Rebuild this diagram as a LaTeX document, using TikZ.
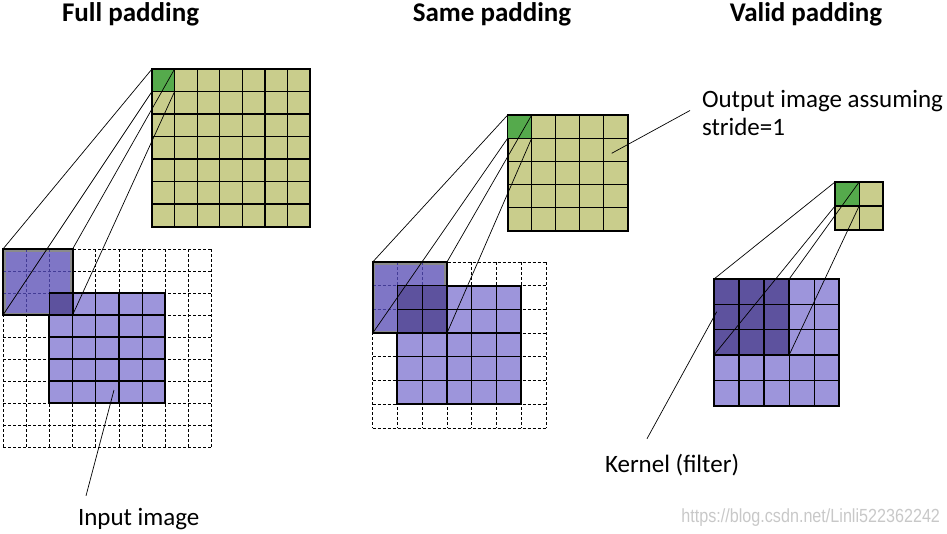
\documentclass[tikz,border=0pt]{standalone}
\usepackage{fontspec}
\setmainfont{Carlito}
\newfontfamily\markfont{Liberation Sans}
\usetikzlibrary{positioning}

\definecolor{outcell}{HTML}{C9CD8C}
\definecolor{outfirst}{HTML}{55AA4C}
\definecolor{incell}{HTML}{9D95DB}
\definecolor{kerncell}{HTML}{7F76C6}
\definecolor{kerndark}{HTML}{5D529E}
\definecolor{kerngray}{HTML}{8A8A8A}
\definecolor{kernline}{HTML}{433C96}
\definecolor{marktext}{HTML}{C8C8C8}

% lines of a grid: style, x0, y0, nx, ny, cell width, cell height
\newcommand{\cellgrid}[7]{%
  \foreach \i in {0,...,#4}
    \draw[#1] ({#2+\i*#6},#3) -- ++(0,{#5*#7});
  \foreach \j in {0,...,#5}
    \draw[#1] (#2,{#3+\j*#7}) -- ++({#4*#6},0);
}

\begin{document}
\begin{tikzpicture}[x=1pt,y=-1pt]
    \tikzstyle{every node}=[inner sep=0pt,outer sep=0pt]
    \tikzstyle{padline}=[black,line width=0.7pt,dash pattern=on 3pt off 2pt]
    \tikzstyle{kerndash}=[kernline,line width=0.7pt,dash pattern=on 3pt off 2pt]
    \tikzstyle{cellline}=[black,line width=1.3pt]
    \tikzstyle{inimg}=[rectangle,fill=incell,draw=black,line width=2pt,anchor=north west]
    \tikzstyle{outimg}=[rectangle,fill=outcell,draw=black,line width=2pt,anchor=north west]
    \tikzstyle{firstcell}=[rectangle,fill=outfirst,anchor=north west]
    \tikzstyle{kernbox}=[rectangle,fill=kerngray,anchor=north west]
    \tikzstyle{kernframe}=[black,line width=2.2pt]
    \tikzstyle{proj}=[black,line width=0.7pt]
    \tikzstyle{title}=[font=\bfseries\fontsize{27}{32}\selectfont,anchor=base]
    \tikzstyle{note}=[font=\fontsize{25}{28}\selectfont,align=left,anchor=base west]
    \tikzstyle{wmark}=[font=\markfont\fontsize{19}{22}\selectfont,text=marktext,anchor=base east]

    \useasboundingbox (0,0) rectangle (947,533);

    % full padding
    \node[title] (tA) at (130.5,21.5) {Full padding};
    \cellgrid{padline}{3}{249}{9}{9}{23.2}{22}
    \node[inimg,minimum width=116pt,minimum height=110pt] (inA) at (49.4,293) {};
    \cellgrid{cellline}{49.4}{293}{5}{5}{23.2}{22}
    \node[kernbox,minimum width=69.6pt,minimum height=66pt] (kA) at (3,249) {};
    \fill[kerncell] ([shift={(2.5,2.5)}]kA.north west) rectangle ([shift={(-2.5,-2.5)}]kA.south east);
    \cellgrid{kerndash}{3}{249}{3}{3}{23.2}{22}
    \fill[kerndark] (inA.north west) rectangle (kA.south east);
    \cellgrid{cellline}{49.4}{293}{1}{1}{23.2}{22}
    \draw[kernframe] (kA.north west) rectangle (kA.south east);
    \node[outimg,minimum width=158.2pt,minimum height=157.5pt] (oA) at (152,69) {};
    \node[firstcell,minimum width=22.6pt,minimum height=22.5pt] (fA) at (152,69) {};
    \cellgrid{cellline}{152}{69}{7}{7}{22.6}{22.5}
    \draw[proj] (kA.north west) -- (fA.north west)
                (kA.north east) -- (fA.north east)
                (kA.south west) -- (fA.south west)
                (kA.south east) -- (fA.south east);
    \node[note] (lA) at (78,525) {Input image};
    \coordinate (pA) at (114,390);
    \draw[proj] (pA) -- ([xshift=8pt,yshift=12pt]lA.north west);

    % same padding
    \node[title] (tB) at (492,21.5) {Same padding};
    \cellgrid{padline}{372.7}{262}{7}{7}{24.76}{23.7}
    \node[inimg,minimum width=123.8pt,minimum height=118.5pt] (inB) at (397.46,285.7) {};
    \cellgrid{cellline}{397.46}{285.7}{5}{5}{24.76}{23.7}
    \node[kernbox,minimum width=74.28pt,minimum height=71.1pt] (kB) at (372.7,262) {};
    \fill[kerncell] ([shift={(2.5,2.5)}]kB.north west) rectangle ([shift={(-2.5,-2.5)}]kB.south east);
    \cellgrid{kerndash}{372.7}{262}{3}{3}{24.76}{23.7}
    \fill[kerndark] (inB.north west) rectangle (kB.south east);
    \cellgrid{cellline}{397.46}{285.7}{2}{2}{24.76}{23.7}
    \draw[kernframe] (kB.north west) rectangle (kB.south east);
    \node[outimg,minimum width=120pt,minimum height=116pt] (oB) at (507.7,115) {};
    \node[firstcell,minimum width=24pt,minimum height=23.2pt] (fB) at (507.7,115) {};
    \cellgrid{cellline}{507.7}{115}{5}{5}{24}{23.2}
    \draw[proj] (kB.north west) -- (fB.north west)
                (kB.north east) -- (fB.north east)
                (kB.south west) -- (fB.south west)
                (kB.south east) -- (fB.south east);
    \node[note] (lB) at (702,135) {Output image assuming\\stride=1};
    \coordinate (pB) at (611.7,153.3);
    \draw[proj] (pB) -- ([xshift=-12pt,yshift=2pt]lB.west);

    % valid padding
    \node[title] (tC) at (806,21.5) {Valid padding};
    \node[inimg,minimum width=125.3pt,minimum height=126.5pt] (inC) at (714,279) {};
    \cellgrid{cellline}{714}{279}{5}{5}{25.06}{25.3}
    \node[kernbox,fill=kerndark,minimum width=75.18pt,minimum height=75.9pt] (kC) at (714,279) {};
    \cellgrid{cellline}{714}{279}{3}{3}{25.06}{25.3}
    \draw[kernframe] (kC.north west) rectangle (kC.south east);
    \node[outimg,minimum width=48.3pt,minimum height=48pt] (oC) at (835,182) {};
    \node[firstcell,minimum width=24.15pt,minimum height=24pt] (fC) at (835,182) {};
    \cellgrid{cellline}{835}{182}{2}{2}{24.15}{24}
    \draw[proj] (kC.north west) -- (fC.north west)
                (kC.north east) -- (fC.north east)
                (kC.south west) -- (fC.south west)
                (kC.south east) -- (fC.south east);
    \node[note] (lC) at (605,472) {Kernel (filter)};
    \coordinate (pC) at (716.7,311.7);
    \draw[proj] (pC) -- ([xshift=42pt,yshift=15pt]lC.north west);

    \node[wmark] (wm) at (940,522) {\scalebox{0.85}[1]{https://blog.csdn.net/Linli522362242}};
\end{tikzpicture}
\end{document}
